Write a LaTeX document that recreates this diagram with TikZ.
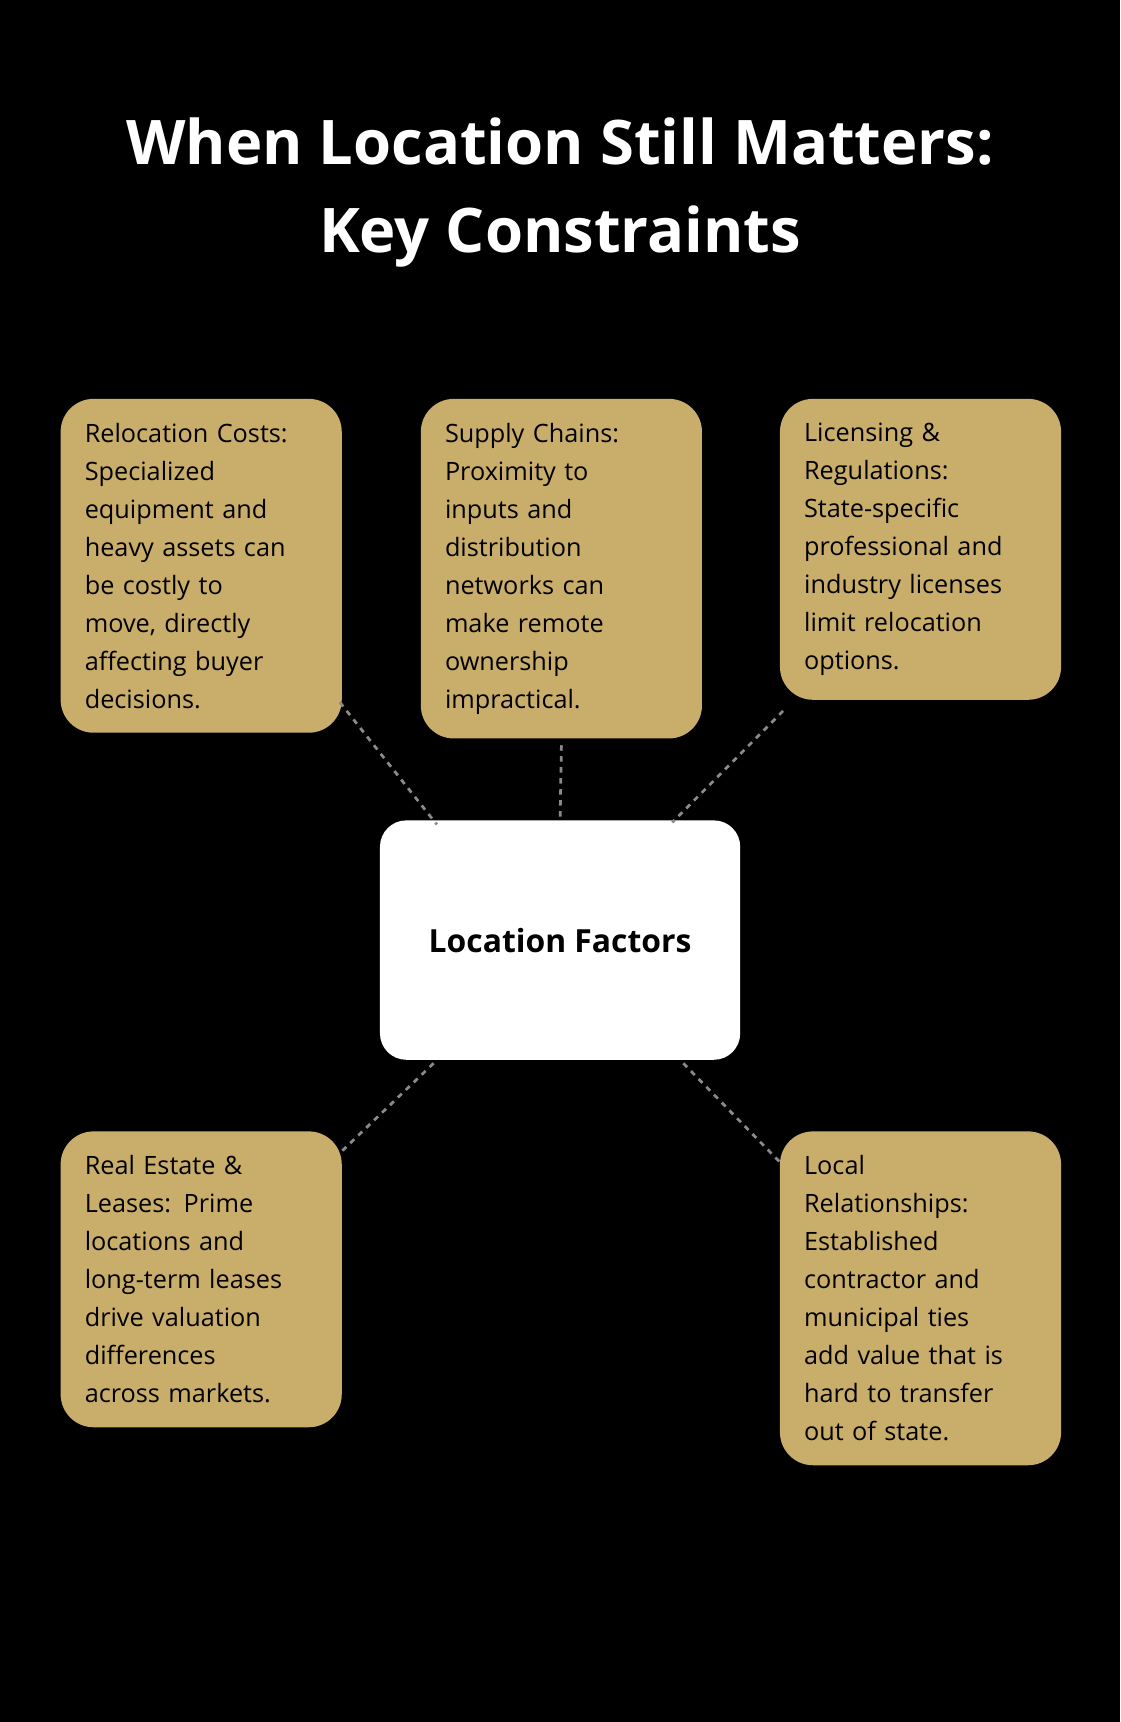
\documentclass[tikz,border=0pt]{standalone}
\usepackage{fontspec}
\setmainfont{Open Sans}
\usetikzlibrary{positioning}
\definecolor{gold}{HTML}{C8AE6A}
\definecolor{linkgray}{HTML}{8A8A8A}
\tikzset{
  factor/.style={draw=none, fill=gold, rounded corners=30pt, anchor=north west,
    inner xsep=22pt, inner ysep=22pt, text width=212pt, align=left,
    font=\fontsize{23}{34.6}\selectfont},
  hub/.style={fill=white, rounded corners=24pt, minimum width=328pt, minimum height=218pt,
    font=\bfseries\fontsize{29}{34}\selectfont},
  link/.style={draw=linkgray, line width=2.5pt, dash pattern=on 5pt off 5pt}
}
\begin{document}
\begin{tikzpicture}[x=1pt,y=-1pt]
    \fill[black] (0,0) rectangle (1020,1568);
    \useasboundingbox (0,0) rectangle (1020,1568);

    \node[text=white, align=center, font=\bfseries\fontsize{56}{80}\selectfont] (title) at (510,175)
      {When Location Still Matters:\\Key Constraints};

    \node[hub] (hub) at (510,856) {Location Factors};

    \node[factor] (reloc) at (55,363) {Relocation Costs:\\Specialized\\equipment and\\heavy assets can\\be costly to\\move, directly\\affecting buyer\\decisions.};
    \node[factor] (supply) at (383,363) {Supply Chains:\\Proximity to\\inputs and\\distribution\\networks can\\make remote\\ownership\\impractical.};
    \node[factor] (license) at (710,363) {Licensing \&\\Regulations:\\State-specific\\professional and\\industry licenses\\limit relocation\\options.};
    \node[factor] (estate) at (55,1030) {Real Estate \&\\Leases: Prime\\locations and\\long-term leases\\drive valuation\\differences\\across markets.};
    \node[factor] (local) at (710,1030) {Local\\Relationships:\\Established\\contractor and\\municipal ties\\add value that is\\hard to transfer\\out of state.};

    \draw[link] ([xshift=-2pt,yshift=28pt]reloc.south east) -- ([xshift=52pt,yshift=-4pt]hub.north west);
    \draw[link] ([yshift=-6pt]supply.south) -- (hub.north);
    \draw[link] ([xshift=3pt,yshift=-10pt]license.south west) -- ([xshift=-62pt,yshift=-2pt]hub.north east);
    \draw[link] ([xshift=49pt,yshift=-3pt]hub.south west) -- ([xshift=-2pt,yshift=-20pt]estate.north east);
    \draw[link] ([xshift=-52pt,yshift=-3pt]hub.south east) -- ([xshift=0pt,yshift=-28pt]local.north west);
\end{tikzpicture}
\end{document}
